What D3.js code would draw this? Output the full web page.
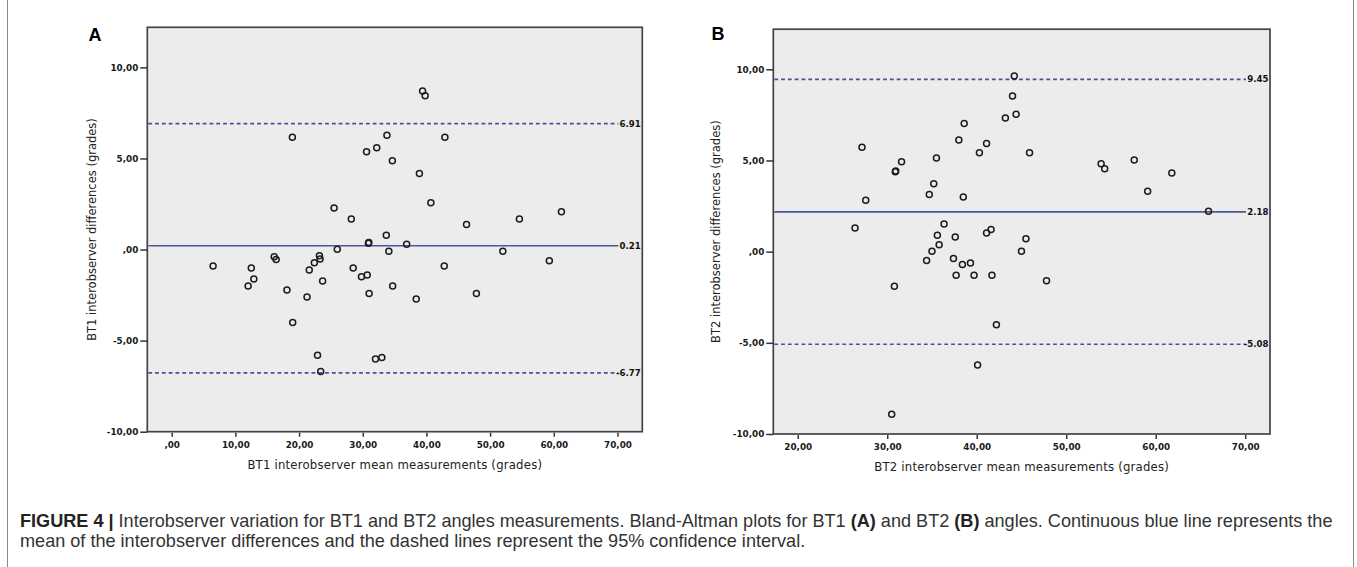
<!DOCTYPE html>
<html><head><meta charset="utf-8">
<script src="https://cdn.jsdelivr.net/npm/d3@7"></script>
<style>
html,body{margin:0;padding:0;background:#fff;}
svg{display:block;}
</style></head>
<body>
<svg id="chart" width="1357" height="567"></svg>
<script>
// ---------- DATA ----------
const bt1Mean = [6.5,12.0,12.5,12.9,16.1,16.4,18.1,19.0,18.95,21.25,21.6,22.4,23.2,23.3,23.7,22.9,23.4,25.5,26.0,28.2,28.5,29.8,30.7,31.0,30.9,30.95,30.6,32.2,32.0,33.0,33.7,34.1,33.8,34.65,34.7,36.9,38.4,38.9,39.4,39.8,40.7,42.9,42.8,46.3,47.85,52.0,54.6,59.3,61.2];
const bt1Diff = [-0.91,-2.0,-1.02,-1.62,-0.4,-0.55,-2.22,-4.0,6.17,-2.61,-1.13,-0.72,-0.34,-0.52,-1.73,-5.81,-6.7,2.28,0.01,1.67,-1.02,-1.49,-1.4,-2.41,0.34,0.38,5.37,5.59,-6.01,-5.92,0.78,-0.1,6.28,4.87,-2.0,0.29,-2.72,4.18,8.7,8.44,2.57,6.17,-0.91,1.38,-2.41,-0.1,1.67,-0.61,2.07];
const bt2Mean = [26.4,27.18,27.6,30.5,30.8,30.9,30.95,31.6,34.4,34.7,35.0,35.2,35.5,35.6,35.8,36.35,37.4,37.6,37.7,38.0,38.4,38.5,38.6,39.3,39.7,40.1,40.3,41.1,41.1,41.6,41.7,42.2,43.2,44.0,44.2,44.4,45.0,45.5,45.9,47.8,53.9,54.3,57.6,59.1,61.8,65.9];
const bt2Diff = [1.30,5.73,2.82,-8.92,-1.9,4.38,4.42,4.93,-0.48,3.13,0.02,3.72,5.13,0.9,0.38,1.52,-0.38,0.81,-1.3,6.13,-0.7,3.0,7.03,-0.62,-1.3,-6.21,5.42,1.03,5.93,1.21,-1.3,-4.01,7.33,8.53,9.63,7.53,0.02,0.71,5.42,-1.59,4.82,4.54,5.02,3.31,4.32,2.21];
const bt1Limits = [6.91, 0.21, -6.77];   // upper, mean, lower
const bt2Limits = [9.45, 2.18, -5.08];
const bt1LimitLabels = ["6.91", "0.21", "-6.77"];
const bt2LimitLabels = ["9.45", "2.18", "-5.08"];
const yTickValues = [-10, -5, 0, 5, 10];
const bt1XTicks = [0, 10, 20, 30, 40, 50, 60, 70];
const bt2XTicks = [20, 30, 40, 50, 60, 70];
const panelLetters = ["A", "B"];
const bt1YLabel = "BT1 interobserver differences (grades)";
const bt1XLabel = "BT1 interobserver mean measurements (grades)";
const bt2YLabel = "BT2 interobserver differences (grades)";
const bt2XLabel = "BT2 interobserver mean measurements (grades)";

// ---------- DRAW ----------
const svg = d3.select("#chart");

// figure frame (side borders)
svg.append("line").attr("x1",7.5).attr("x2",7.5).attr("y1",0).attr("y2",567).attr("stroke","#8a8a8a").attr("stroke-width",1);
svg.append("line").attr("x1",1353.5).attr("x2",1353.5).attr("y1",0).attr("y2",567).attr("stroke","#8a8a8a").attr("stroke-width",1);

function fmtTick(v){
  let s = Math.abs(v).toFixed(2).replace(".", ",");
  if (Math.abs(v) < 1e-9) s = ",00";
  return (v < 0 ? "-" : "") + s;
}

const tickFont = "'DejaVu Sans', sans-serif";

function panel(cfg){
  const x = d3.scaleLinear().domain(cfg.xDomain).range([cfg.left, cfg.right]);
  const y = d3.scaleLinear().domain(cfg.yDomain).range([cfg.bottom, cfg.top]);
  const g = svg.append("g");

  g.append("rect").attr("x",cfg.left).attr("y",cfg.top)
    .attr("width",cfg.right-cfg.left).attr("height",cfg.bottom-cfg.top)
    .attr("fill","#ececec").attr("stroke","#444").attr("stroke-width",1.7);

  // y axis
  const yAxis = d3.axisLeft(y).tickValues(yTickValues).tickFormat(fmtTick).tickSize(7).tickPadding(2);
  const ya = g.append("g").attr("transform",`translate(${cfg.left},0)`).call(yAxis);
  ya.select(".domain").remove();
  ya.selectAll("line").attr("stroke","#333").attr("stroke-width",1.5);
  ya.selectAll("text").attr("font-family",tickFont).attr("font-weight","bold")
    .attr("font-size","8.8px").attr("fill","#1a1a1a");

  // x axis
  const xAxis = d3.axisBottom(x).tickValues(cfg.xTicks).tickFormat(fmtTick).tickSize(4).tickPadding(5);
  const xa = g.append("g").attr("transform",`translate(0,${cfg.bottom+1})`).call(xAxis);
  xa.select(".domain").remove();
  xa.selectAll("line").attr("stroke","#333").attr("stroke-width",1.5);
  xa.selectAll("text").attr("font-family",tickFont).attr("font-weight","bold")
    .attr("font-size","8.8px").attr("fill","#1a1a1a");

  // reference lines
  const labelRight = cfg.right - 1.5;
  const lineEnd = cfg.right - 24;
  cfg.limits.forEach((v,i)=>{
    g.append("line").attr("x1",cfg.left+1).attr("x2",lineEnd)
      .attr("y1",y(v)).attr("y2",y(v))
      .attr("stroke", i===1 ? "#4b5898" : "#4a4f9c")
      .attr("stroke-width", i===1 ? 1.6 : 1.6)
      .attr("stroke-dasharray", i===1 ? null : "3.8,3.0");
    g.append("text").attr("x",labelRight).attr("y",y(v)).attr("dy","0.35em")
      .attr("text-anchor","end").attr("font-family",tickFont).attr("font-weight","bold")
      .attr("font-size","8.6px").attr("fill","#111").text(cfg.limitLabels[i]);
  });

  // points
  g.append("g").selectAll("circle").data(cfg.xs.map((d,i)=>[d,cfg.ys[i]])).join("circle")
    .attr("cx",d=>x(d[0])).attr("cy",d=>y(d[1])).attr("r",3)
    .attr("fill","none").attr("stroke","#1c1c1c").attr("stroke-width",1.5);

  // axis labels
  g.append("text").attr("x",(cfg.left+cfg.right)/2).attr("y",cfg.bottom+37)
    .attr("text-anchor","middle").attr("font-family",tickFont).attr("font-size","11.7px")
    .attr("fill","#222").attr("letter-spacing","0.2px").text(cfg.xLabel);
  g.append("text").attr("transform",`translate(${cfg.yLabelX},${(cfg.top+cfg.bottom)/2}) rotate(-90)`)
    .attr("text-anchor","middle").attr("dy","0.35em").attr("font-family",tickFont).attr("font-size","11.5px")
    .attr("fill","#222").text(cfg.yLabel);

  // panel letter
  g.append("text").attr("x",cfg.letterX).attr("y",cfg.letterY).attr("text-anchor","middle")
    .attr("dy","0.35em").attr("font-family","'Liberation Sans', Arial, sans-serif").attr("font-weight","bold")
    .attr("font-size","18px").attr("fill","#000").text(cfg.letter);
}

panel({left:147.3, right:642.3, top:27.3, bottom:431.7,
  xDomain:[-3.83, 73.9], yDomain:[-10, 12.2], xTicks:bt1XTicks,
  xs:bt1Mean, ys:bt1Diff, limits:bt1Limits, limitLabels:bt1LimitLabels,
  xLabel:bt1XLabel, yLabel:bt1YLabel, yLabelX:92, letter:panelLetters[0], letterX:95, letterY:35});

panel({left:773.3, right:1270, top:29.2, bottom:434,
  xDomain:[17.27, 72.77], yDomain:[-10, 12.2], xTicks:bt2XTicks,
  xs:bt2Mean, ys:bt2Diff, limits:bt2Limits, limitLabels:bt2LimitLabels,
  xLabel:bt2XLabel, yLabel:bt2YLabel, yLabelX:716, letter:panelLetters[1], letterX:718, letterY:34});

// caption
const capFont = "'Liberation Sans', Arial, sans-serif";
const cap1 = svg.append("text").attr("x",20).attr("y",527).attr("font-family",capFont)
  .attr("font-size","14px").attr("fill","#333");
cap1.append("tspan").attr("font-weight","bold").attr("fill","#222").text("FIGURE 4 | ");
cap1.append("tspan").text("Interobserver variation for BT1 and BT2 angles measurements. Bland-Altman plots for BT1 ");
cap1.append("tspan").attr("font-weight","bold").attr("fill","#222").text("(A)");
cap1.append("tspan").text(" and BT2 ");
cap1.append("tspan").attr("font-weight","bold").attr("fill","#222").text("(B)");
cap1.append("tspan").text(" angles. Continuous blue line represents the");
const cap2 = svg.append("text").attr("x",20).attr("y",547).attr("font-family",capFont)
  .attr("font-size","14px").attr("fill","#333")
  .text("mean of the interobserver differences and the dashed lines represent the 95% confidence interval.");
// fit caption width to reference
const target = 1313;
const w = cap1.node().getComputedTextLength();
const fs = 14 * target / w;
cap1.attr("font-size", fs + "px");
cap2.attr("font-size", fs + "px");
</script>
</body></html>
